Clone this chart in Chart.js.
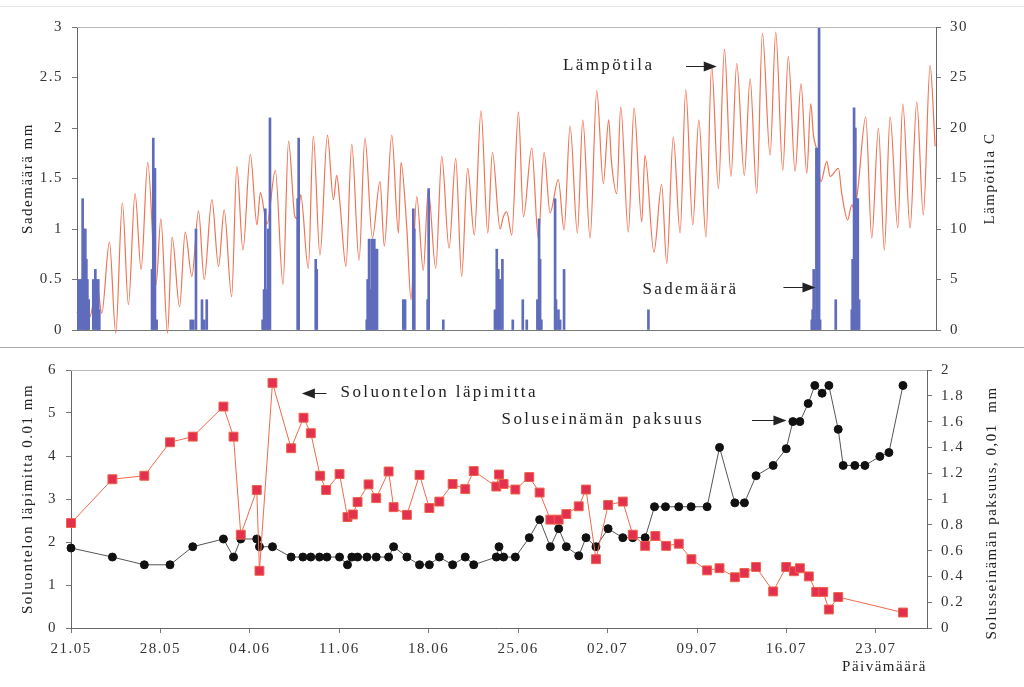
<!DOCTYPE html>
<html>
<head>
<meta charset="utf-8">
<script src="https://cdn.jsdelivr.net/npm/chart.js@4.4.1/dist/chart.umd.min.js"></script>
<style>
  body { margin: 0; background: #fff; }
  #page { position: relative; width: 1024px; height: 687px; overflow: hidden; }
  #top { position: absolute; left: 0; top: 0; }
  #bottom { position: absolute; left: 0; top: 350px; }
  .rule { position: absolute; left: 0; width: 1024px; height: 1px; }
</style>
</head>
<body>
<div id="page">
  <div class="rule" style="top:6px;background:#e6e6e6"></div>
  <canvas id="top" width="1024" height="345"></canvas>
  <div class="rule" style="top:347px;background:#a8a8a8"></div>
  <canvas id="bottom" width="1024" height="337"></canvas>
</div>
<script>
const temperature = [
  [0, 1.65], [0.55, 3.3], [0.96, 1.2], [1.59, 4.3], [1.93, 1.65], [2.53, 8.7], [3.02, -0.3], [3.54, 12.6],
  [4.01, 2.5], [4.53, 13.5], [5.0, 6.0], [5.52, 16.6], [6.17, 4.5], [6.54, 11.0], [7.06, -0.3], [7.42, 9.2],
  [8.0, 2.3], [8.44, 9.7], [8.96, 5.3], [9.48, 11.8], [9.92, 5.0], [10.52, 12.9], [11.04, 6.3], [11.48, 11.9],
  [12.06, 3.3], [12.47, 16.2], [12.94, 7.9], [13.52, 17.4], [14.04, 10.4], [14.3, 13.6], [14.82, 10.5], [15.47, 15.8],
  [16.07, 4.5], [16.5, 18.7], [17.0, 11.2], [17.25, 11.0], [17.45, 13.4], [18.04, 6.1], [18.43, 19.2], [18.95, 7.4],
  [19.53, 19.3], [20.0, 12.9], [20.26, 15.3], [20.5, 12.7], [20.98, 6.3], [21.43, 18.4], [22.0, 6.9], [22.46, 19.0],
  [23.04, 9.1], [23.63, 14.7], [23.97, 8.3], [24.55, 19.3], [25.07, 9.6], [25.27, 16.6], [25.72, 10.2], [26.05, 3.0],
  [26.5, 13.2], [27.01, 5.9], [27.4, 13.9], [27.98, 6.1], [28.45, 17.2], [29.02, 8.1], [29.54, 17.0], [30.0, 5.3],
  [30.47, 16.0], [30.99, 9.4], [31.51, 21.7], [32.04, 9.6], [32.4, 17.6], [33.0, 10.0], [33.25, 11.2], [33.52, 11.7],
  [33.91, 9.4], [34.43, 21.6], [34.82, 11.2], [35.47, 18.0], [35.98, 9.1], [36.43, 17.6], [36.9, 11.6], [37.54, 14.9],
  [37.99, 9.9], [38.46, 20.2], [39.03, 9.6], [39.45, 20.8], [40.02, 9.1], [40.54, 23.7], [41.05, 14.5], [41.47, 20.8],
  [41.68, 16.8], [42.1, 13.5], [42.41, 22.1], [43.0, 9.7], [43.45, 22.0], [44.05, 10.7], [44.3, 17.3], [45.0, 7.7],
  [45.6, 14.4], [46.0, 6.6], [46.51, 19.1], [47.04, 9.6], [47.48, 23.8], [48.03, 10.4], [48.5, 20.8], [49.06, 9.2],
  [49.5, 26.2], [50.03, 14.0], [50.5, 27.8], [51.01, 15.2], [51.46, 26.4], [52.05, 15.3], [52.5, 24.9], [53.02, 13.5],
  [53.46, 29.4], [54.06, 17.3], [54.5, 29.5], [55.05, 15.8], [55.48, 27.1], [56.01, 15.7], [56.47, 24.4], [56.92, 15.5],
  [57.23, 22.4], [57.44, 19.3], [57.7, 17.8], [58.03, 14.7], [58.48, 16.7], [58.74, 15.2], [59.39, 16.0], [59.65, 13.5],
  [60.11, 10.9], [60.43, 12.4], [60.64, 11.9], [60.9, 13.9], [61.52, 21.1], [61.99, 9.1], [62.51, 20.0], [62.97, 7.9],
  [63.42, 21.1], [64.02, 10.1], [64.41, 22.4], [64.98, 10.1], [65.5, 22.6], [66.01, 11.4], [66.54, 26.2], [66.93, 18.2]
];

// rainfall per hour: [day, mm]
const precipitation = [
  [0.1, 0.5], [0.23, 0.5], [0.37, 0.5], [0.44, 1.3], [0.55, 1.0], [0.65, 1.0], [0.73, 0.7], [0.81, 0.5], [0.91, 0.3],
  [1.27, 0.5], [1.43, 0.6], [1.53, 0.5], [1.66, 0.5], [1.74, 0.2],
  [5.85, 0.6], [5.95, 1.9], [6.08, 1.6], [6.21, 0.1],
  [8.87, 0.1], [9.07, 0.1], [9.28, 1.0], [9.75, 0.3], [9.93, 0.1], [10.12, 0.3],
  [14.48, 0.1], [14.59, 0.4], [14.69, 1.2], [14.85, 0.4], [14.92, 1.0], [15.05, 2.1],
  [17.21, 1.3], [17.29, 1.9], [18.62, 0.7], [18.7, 0.6],
  [22.6, 0.1], [22.67, 0.5], [22.78, 0.9], [22.88, 0.4], [22.99, 0.9], [23.09, 0.2], [23.19, 0.9], [23.3, 0.8], [23.4, 0.8],
  [25.45, 0.3], [25.59, 0.3], [26.23, 1.2], [26.31, 1.0], [27.35, 0.3], [27.43, 1.4], [28.57, 0.1],
  [32.6, 0.2], [32.74, 0.8], [32.86, 0.6], [33.0, 0.5], [33.18, 0.7],
  [33.99, 0.1], [34.77, 0.3], [35.08, 0.1], [35.91, 0.3], [36.04, 1.1], [36.12, 0.7], [36.22, 0.1],
  [37.29, 1.3], [37.36, 0.3], [37.55, 0.2], [37.68, 0.1], [37.99, 0.6],
  [44.57, 0.2],
  [57.31, 0.1], [57.38, 0.2], [57.46, 0.6], [57.57, 0.1], [57.67, 1.8], [57.78, 1.8], [57.88, 3.0], [57.96, 0.1],
  [59.18, 0.3],
  [60.43, 0.2], [60.5, 0.7], [60.61, 2.2], [60.71, 2.0], [60.79, 1.3], [60.9, 1.3], [61.0, 0.3]
];

// cell lumen diameter, 0.01 mm (left axis)
const cellDiameter = [
  [0, 2.44], [3.24, 3.46], [5.74, 3.54], [7.75, 4.32], [9.53, 4.45], [11.93, 5.15], [12.72, 4.45], [13.29, 2.17],
  [14.54, 3.21], [14.75, 1.33], [15.77, 5.7], [17.23, 4.18], [18.2, 4.89], [18.77, 4.53], [19.5, 3.54], [19.97, 3.21],
  [21.02, 3.58], [21.64, 2.58], [22.06, 2.64], [22.43, 2.93], [23.29, 3.34], [23.89, 3.02], [24.86, 3.64], [25.25, 2.81],
  [26.29, 2.63], [27.28, 3.56], [28.05, 2.79], [28.83, 2.94], [29.87, 3.35], [30.86, 3.23], [31.52, 3.65], [33.29, 3.29],
  [33.5, 3.57], [33.86, 3.35], [34.78, 3.22], [35.87, 3.51], [36.68, 3.15], [37.52, 2.52], [38.17, 2.52], [38.77, 2.65],
  [39.74, 2.83], [40.31, 3.22], [41.09, 1.6], [42.04, 2.86], [43.19, 2.94], [43.97, 2.17], [44.94, 1.91], [45.74, 2.14],
  [46.58, 1.91], [47.57, 1.96], [48.56, 1.6], [49.79, 1.34], [50.76, 1.39], [51.96, 1.18], [52.71, 1.28], [53.62, 1.42],
  [54.96, 0.85], [55.98, 1.42], [56.58, 1.32], [57.05, 1.39], [57.75, 1.2], [58.33, 0.84], [58.88, 0.84], [59.32, 0.43],
  [60.05, 0.72], [65.12, 0.36]
];

// cell wall thickness, 0.01 mm (right axis)
const wallThickness = [
  [0, 0.62], [3.24, 0.55], [5.74, 0.49], [7.75, 0.49], [9.53, 0.63], [11.93, 0.69], [12.72, 0.55], [13.29, 0.69],
  [14.54, 0.69], [14.75, 0.63], [15.77, 0.63], [17.23, 0.55], [18.15, 0.55], [18.77, 0.55], [19.45, 0.55], [20.03, 0.55],
  [21.02, 0.55], [21.64, 0.49], [21.98, 0.55], [22.43, 0.55], [23.16, 0.55], [23.89, 0.55], [24.86, 0.55], [25.25, 0.63],
  [26.29, 0.55], [27.28, 0.49], [28.05, 0.49], [28.83, 0.55], [29.87, 0.49], [30.86, 0.55], [31.52, 0.49], [33.29, 0.55],
  [33.5, 0.63], [33.86, 0.55], [34.78, 0.55], [35.87, 0.7], [36.68, 0.84], [37.52, 0.63], [38.17, 0.77], [38.77, 0.63],
  [39.74, 0.56], [40.31, 0.7], [41.09, 0.63], [42.04, 0.77], [43.19, 0.7], [43.97, 0.7], [44.94, 0.7], [45.67, 0.94],
  [46.53, 0.94], [47.57, 0.94], [48.54, 0.94], [49.79, 0.94], [50.76, 1.4], [51.96, 0.97], [52.71, 0.97], [53.62, 1.18],
  [54.96, 1.26], [55.98, 1.39], [56.5, 1.6], [57.05, 1.6], [57.7, 1.74], [58.22, 1.88], [58.79, 1.82], [59.32, 1.88],
  [60.05, 1.54], [60.44, 1.26], [61.35, 1.26], [62.14, 1.26], [63.31, 1.33], [64.02, 1.36], [65.12, 1.88]
];

// one label per week, tick every 7 days
const dateLabels = ['21.05', '28.05', '04.06', '11.06', '18.06', '25.06', '02.07', '09.07', '16.07', '23.07'];

const serif = '"Liberation Serif", "Times New Roman", serif';
const ink = '#333';
const pts = arr => arr.map(([x, y]) => ({ x, y }));

// spaced-out lettering like the scanned original
const spacing = {
  id: 'spacing',
  beforeUpdate(chart) { chart.ctx.letterSpacing = '1.5px'; },
  beforeDraw(chart) { chart.ctx.letterSpacing = '1.5px'; }
};

// top frame line, right-hand axis title (reads upwards), labels and arrows
const notes = {
  id: 'notes',
  afterDraw(chart, args, opts) {
    const { ctx, chartArea, scales } = chart;
    ctx.save();
    ctx.strokeStyle = '#b8b8b8';
    ctx.lineWidth = 1;
    ctx.beginPath();
    ctx.moveTo(chartArea.left, chartArea.top + 0.5);
    ctx.lineTo(chartArea.right, chartArea.top + 0.5);
    ctx.stroke();

    if (opts.sideTitle) {
      const st = opts.sideTitle;
      ctx.save();
      ctx.translate(scales.y2.right - st.gap, (chartArea.top + chartArea.bottom) / 2 + (st.shift || 0));
      ctx.rotate(-Math.PI / 2);
      ctx.font = '15px ' + serif;
      ctx.letterSpacing = '1.5px';
      ctx.fillStyle = '#222';
      ctx.textAlign = 'center';
      ctx.textBaseline = 'middle';
      ctx.fillText(st.text, 0, 0);
      ctx.restore();
    }

    ctx.font = '17px ' + serif;
    ctx.letterSpacing = '2.4px';
    ctx.fillStyle = '#222';
    ctx.strokeStyle = '#222';
    ctx.textBaseline = 'middle';
    (opts.texts || []).forEach(t => {
      ctx.fillText(t.text, scales.x.getPixelForValue(t.x), scales[t.axis].getPixelForValue(t.y));
    });
    (opts.arrows || []).forEach(a => {
      const x1 = scales.x.getPixelForValue(a.from);
      const x2 = scales.x.getPixelForValue(a.to);
      const y = Math.round(scales[a.axis].getPixelForValue(a.y)) + 0.5;
      const dir = Math.sign(x2 - x1);
      ctx.beginPath();
      ctx.moveTo(x1, y);
      ctx.lineTo(x2 - dir * 10, y);
      ctx.stroke();
      ctx.beginPath();
      ctx.moveTo(x2, y);
      ctx.lineTo(x2 - dir * 13, y - 5);
      ctx.lineTo(x2 - dir * 13, y + 5);
      ctx.closePath();
      ctx.fill();
    });
    ctx.restore();
  }
};

function yAxis(position, min, max, step, width, title, titleGap) {
  return {
    type: 'linear', position, min, max,
    ticks: {
      stepSize: step, color: ink, font: { family: serif, size: 15 }, padding: 9,
      callback: v => String(+v.toFixed(2))
    },
    grid: { drawOnChartArea: false, tickLength: 5, color: '#777' },
    border: { color: '#666' },
    title: {
      display: !!title, text: title, color: '#222', font: { family: serif, size: 15 },
      padding: { top: titleGap, bottom: 0 }
    },
    afterFit(s) { s.width = width; s.paddingTop = 0; s.paddingBottom = 0; }
  };
}

const common = {
  responsive: false,
  animation: false,
  devicePixelRatio: 1,
  events: []
};

new Chart(document.getElementById('top'), {
  type: 'bar',
  data: {
    datasets: [
      {
        type: 'bar', data: pts(precipitation), yAxisID: 'y',
        backgroundColor: '#5f6cbc', borderWidth: 0, barThickness: 2, order: 0
      },
      {
        type: 'line', data: pts(temperature), yAxisID: 'y2',
        borderColor: '#f07454', borderWidth: 1.2, pointRadius: 0,
        cubicInterpolationMode: 'monotone', clip: false, order: 1
      }
    ]
  },
  options: {
    ...common,
    layout: { padding: { top: 27, left: 0, right: 0, bottom: 0 } },
    plugins: {
      legend: { display: false },
      tooltip: { enabled: false },
      notes: {
        sideTitle: { text: 'Lämpötila C', gap: 34 },
        texts: [
          { text: 'Lämpötila', x: 37.9, y: 26.2, axis: 'y2' },
          { text: 'Sademäärä', x: 44.1, y: 4.0, axis: 'y2' }
        ],
        arrows: [
          { from: 47.5, to: 49.9, y: 26.1, axis: 'y2' },
          { from: 55.1, to: 57.6, y: 4.3, axis: 'y2' }
        ]
      }
    },
    scales: {
      x: {
        type: 'linear', min: 0, max: 67, offset: false,
        ticks: { display: false },
        grid: { drawOnChartArea: false, drawTicks: false, offset: false },
        border: { color: '#777' },
        afterFit(s) { s.height = 15; s.paddingLeft = 0; s.paddingRight = 0; }
      },
      y: yAxis('left', 0, 3, 0.5, 77, 'Sademäärä mm', 19),
      y2: yAxis('right', 0, 30, 5, 88, '', 0)
    }
  },
  plugins: [spacing, notes]
});

new Chart(document.getElementById('bottom'), {
  type: 'line',
  data: {
    datasets: [
      {
        data: pts(cellDiameter), yAxisID: 'y',
        borderColor: '#f06a4c', borderWidth: 1,
        pointStyle: 'rect', pointRadius: 6.3,
        pointBackgroundColor: '#e2304e', pointBorderColor: '#ee6248', pointBorderWidth: 1,
        clip: false, order: 0
      },
      {
        data: pts(wallThickness), yAxisID: 'y2',
        borderColor: '#555', borderWidth: 1,
        pointRadius: 4, pointBackgroundColor: '#111', pointBorderColor: '#111',
        clip: false, order: 1
      }
    ]
  },
  options: {
    ...common,
    layout: { padding: { top: 20, left: 0, right: 0, bottom: 0 } },
    plugins: {
      legend: { display: false },
      tooltip: { enabled: false },
      notes: {
        sideTitle: { text: 'Solusseinämän paksuus, 0,01  mm', gap: 32, shift: 14 },
        texts: [
          { text: 'Soluontelon läpimitta', x: 21.1, y: 5.47, axis: 'y' },
          { text: 'Soluseinämän paksuus', x: 33.7, y: 4.84, axis: 'y' }
        ],
        arrows: [
          { from: 20.0, to: 18.07, y: 5.47, axis: 'y' },
          { from: 53.3, to: 56.0, y: 4.84, axis: 'y' }
        ]
      }
    },
    scales: {
      x: {
        type: 'linear', min: 0, max: 67,
        ticks: {
          stepSize: 7, includeBounds: false, autoSkip: false, maxRotation: 0,
          padding: 7, color: ink, font: { family: serif, size: 15 },
          callback: v => dateLabels[Math.round(v / 7)] ?? ''
        },
        grid: { drawOnChartArea: false, tickLength: 5, color: '#777' },
        border: { color: '#666' },
        title: {
          display: true, text: 'Päivämäärä', align: 'end', color: '#222',
          font: { family: serif, size: 15 }, padding: { top: 0, bottom: 11 }
        },
        afterFit(s) { s.height = 59; s.paddingLeft = 0; s.paddingRight = 0; }
      },
      y: yAxis('left', 0, 6, 1, 71, 'Soluontelon läpimitta 0.01 mm', 19),
      y2: yAxis('right', 0, 2, 0.2, 97, '', 0)
    }
  },
  plugins: [spacing, notes]
});
</script>
</body>
</html>
